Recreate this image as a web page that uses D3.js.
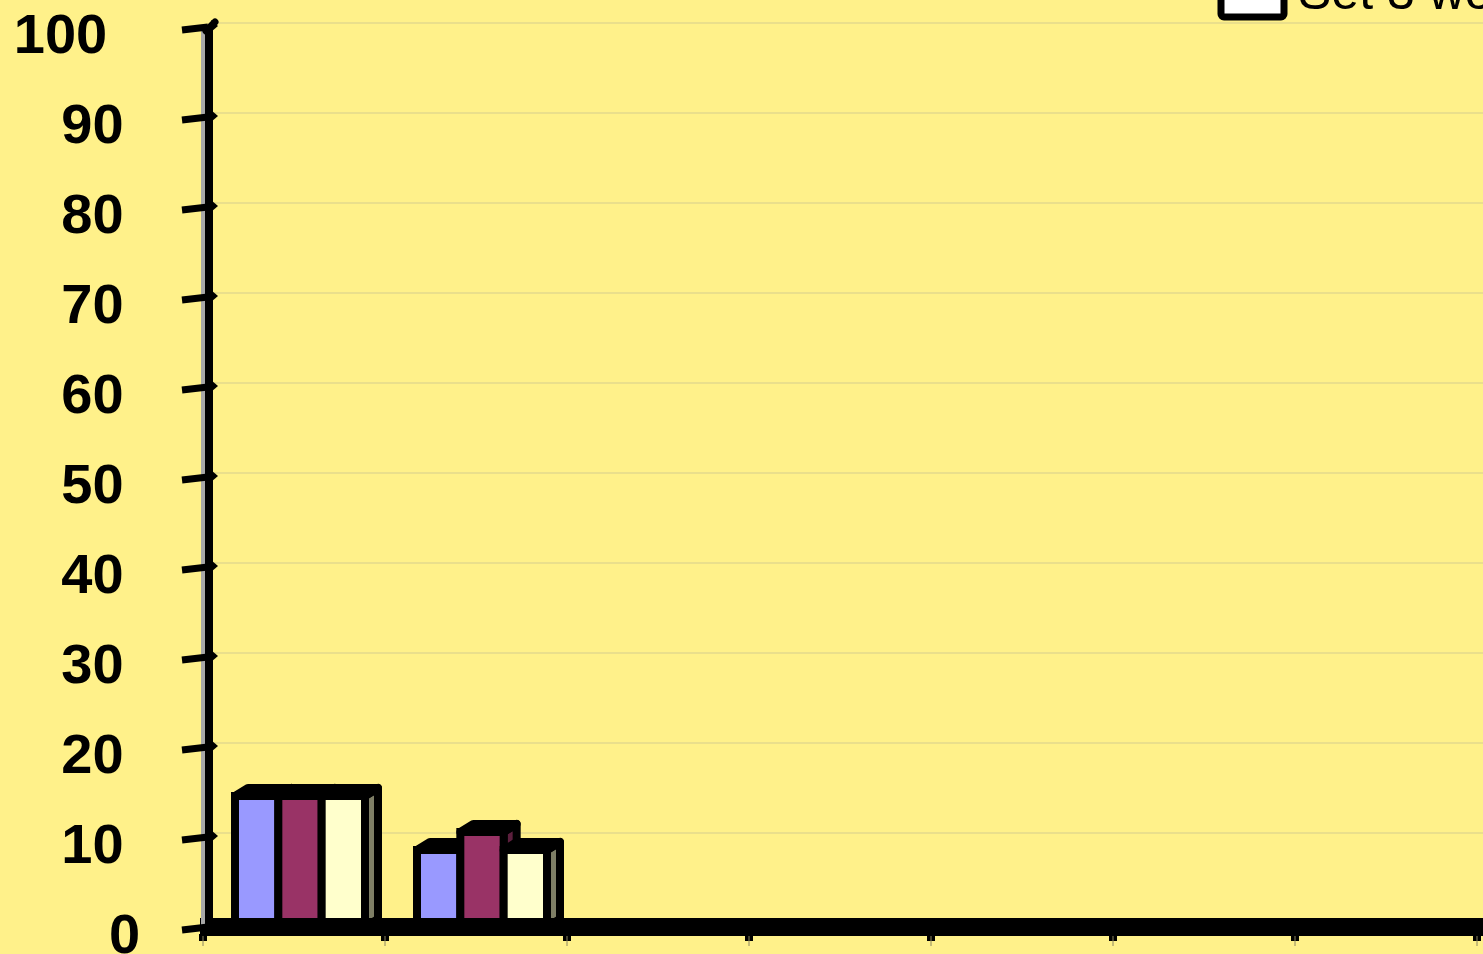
<!DOCTYPE html>
<html>
<head>
<meta charset="utf-8">
<script src="https://cdn.jsdelivr.net/npm/d3@7"></script>
<style>
  html, body { margin: 0; padding: 0; background: #FFF18A; overflow: hidden; }
  svg { display: block; }
</style>
</head>
<body>
<div class="chart"></div>
<script>
// data
var categories = ['1', '2', '3', '4', '5', '6', '7'];
var seriesNames = ['Set 1 words', 'Set 2 words', 'Set 3 words'];
var set1 = [15, 9, 0, 0, 0, 0, 0];
var set2 = [15, 11, 0, 0, 0, 0, 0];
var set3 = [15, 9, 0, 0, 0, 0, 0];
var yTicks = [0, 10, 20, 30, 40, 50, 60, 70, 80, 90, 100];

var colors = ['#9999FF', '#993366', '#FFFFCC'];
var sideColors = ['#5C5C99', '#5C1F3D', '#7F7F66'];
var legendFill = ['#9999FF', '#993366', '#FFFFFF'];

var width = 1483, height = 954;
var dx = 13, dy = 8;   // 3d depth offset

var svg = d3.select('.chart')
  .append('svg')
    .attr('width', width)
    .attr('height', height);

svg.append('rect')
  .attr('width', width).attr('height', height)
  .attr('fill', '#FFF18A');

var y = d3.scaleLinear()
  .domain([0, 100])
  .range([926, 26]);

var x = d3.scaleBand()
  .domain(categories)
  .range([203, 1477])
  .paddingInner(0)
  .paddingOuter(0);

var inner = d3.scaleBand()
  .domain(d3.range(3))
  .range([32, 162]);

// back-wall gridlines
svg.append('g')
  .selectAll('line')
  .data(yTicks)
  .enter()
  .append('line')
    .attr('x1', 212).attr('x2', width)
    .attr('y1', d => y(d) - 3).attr('y2', d => y(d) - 3)
    .style('stroke', '#E3D88C')
    .style('stroke-width', 1.5);

// bars
var rows = [];
[set1, set2, set3].forEach((s, si) => {
  s.forEach((v, ci) => {
    if (v > 0) rows.push({ s: si, c: categories[ci], v: v });
  });
});

var base = 927;
var sw = 8;
var bars = svg.append('g')
  .selectAll('g')
  .data(rows)
  .enter()
  .append('g');

bars.each(function(d) {
  var g = d3.select(this);
  var x0 = x(d.c) + inner(d.s);
  var x1 = x0 + inner.bandwidth();
  var top = y(d.v) + 5;
  // side
  g.append('path')
    .attr('d', `M${x1},${top}L${x1 + dx},${top - dy}L${x1 + dx},${base - dy}L${x1},${base}Z`)
    .style('fill', sideColors[d.s])
    .style('stroke', '#000').style('stroke-width', sw).style('stroke-linejoin', 'round');
  // top
  g.append('path')
    .attr('d', `M${x0},${top}L${x0 + dx},${top - dy}L${x1 + dx},${top - dy}L${x1},${top}Z`)
    .style('fill', sideColors[d.s])
    .style('stroke', '#000').style('stroke-width', sw).style('stroke-linejoin', 'round');
  // front
  g.append('rect')
    .attr('x', x0).attr('y', top)
    .attr('width', x1 - x0).attr('height', base - top)
    .style('fill', colors[d.s])
    .style('stroke', '#000').style('stroke-width', sw);
});

// floor
svg.append('rect')
  .attr('x', 200).attr('y', 918)
  .attr('width', width - 200).attr('height', 18)
  .attr('fill', '#000');

// category ticks under the floor
var cTicks = categories.map(c => x(c)).concat([x.range()[1]]);
var ct = svg.append('g')
  .selectAll('g')
  .data(cTicks)
  .enter()
  .append('g');
ct.append('rect')
  .attr('x', d => d - 4).attr('y', 934)
  .attr('width', 8).attr('height', 7)
  .attr('fill', '#000');
ct.append('line')
  .attr('x1', d => d).attr('x2', d => d)
  .attr('y1', 936).attr('y2', 946)
  .style('stroke', '#8C8660').style('stroke-width', 1);

// value axis
svg.append('rect')
  .attr('x', 201).attr('y', 30)
  .attr('width', 5).attr('height', base - 30)
  .attr('fill', '#A8A8A8');
svg.append('line')
  .attr('x1', 209).attr('x2', 209)
  .attr('y1', 28).attr('y2', base)
  .style('stroke', '#000').style('stroke-width', 8);
svg.append('line')
  .attr('x1', 206).attr('y1', 31).attr('x2', 215).attr('y2', 22)
  .style('stroke', '#000').style('stroke-width', 7).style('stroke-linecap', 'round');

var yt = svg.append('g')
  .selectAll('g')
  .data(yTicks)
  .enter()
  .append('g');
yt.append('line')
  .attr('x1', 182).attr('x2', 208)
  .attr('y1', d => y(d) + 4).attr('y2', d => y(d) + 1)
  .style('stroke', '#000').style('stroke-width', 7);
yt.append('path')
  .attr('d', d => `M211,${y(d) - 6}L218,${y(d)}L211,${y(d) + 6}Z`)
  .attr('fill', '#000');
yt.append('text')
  .attr('x', d => 156.5 - 32 * String(d).length)
  .attr('y', d => y(d) + 27)
  .attr('text-anchor', 'middle')
  .style('font-family', '"Liberation Sans", Arial, sans-serif')
  .style('font-weight', 'bold')
  .style('font-size', '56px')
  .style('fill', '#000')
  .text(d => d);

// legend (mostly above the visible area)
var lg = svg.append('g')
  .selectAll('g')
  .data(seriesNames)
  .enter()
  .append('g')
    .attr('transform', (d, i) => `translate(1221,${-153 + i * 64})`);
lg.append('rect')
  .attr('x', 0).attr('y', 0)
  .attr('width', 63).attr('height', 42)
  .attr('rx', 3)
  .style('fill', (d, i) => legendFill[i])
  .style('stroke', '#000').style('stroke-width', 7);
lg.append('text')
  .attr('x', 77).attr('y', 34)
  .style('font-family', '"Liberation Sans", Arial, sans-serif')
  .style('font-size', '50px')
  .style('fill', '#000')
  .text(d => d);
</script>
</body>
</html>
